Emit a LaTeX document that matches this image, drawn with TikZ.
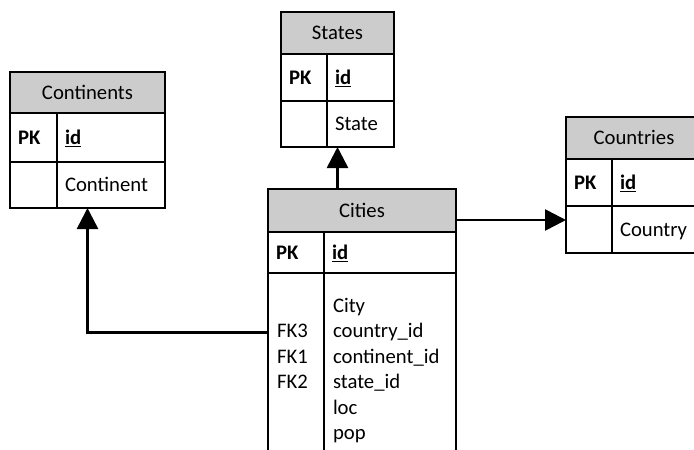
\documentclass[tikz,border=0pt]{standalone}
\usepackage{fontspec}
\setmainfont{Carlito}
\usetikzlibrary{arrows.meta,positioning}

\newcommand{\tabfont}{\fontsize{20.7}{25.5}\selectfont}

\begin{document}
\begin{tikzpicture}[
  x=1pt, y=-1pt,
  font=\tabfont,
  cell/.style={rectangle, draw, line width=1.5pt, inner xsep=8pt, inner ysep=0pt, outer sep=0pt,
               align=left, text height=13.5pt, text depth=0pt},
  hdr/.style={cell, fill=black!20, align=center},
  fld/.style={inner sep=0pt, outer sep=0pt, text height=18pt, text depth=7.5pt},
  link/.style={-{Triangle[length=21pt, width=21pt]}, line width=2.6pt}
]
\useasboundingbox (0,0) rectangle (694,450);
\clip (0,0) rectangle (694,450);

% Continents
\node[hdr, text width=139pt, minimum height=41pt, anchor=north west] (conthdr) at (10,72) {Continents};
\node[cell, text width=31pt, minimum height=49pt, below=0pt of conthdr.south west, anchor=north west] (contpk) {\textbf{PK}};
\node[cell, text width=92pt, minimum height=49pt, right=0pt of contpk.north east, anchor=north west] (contid) {\textbf{\underline{id}}};
\node[cell, text width=31pt, minimum height=46pt, below=0pt of contpk.south west, anchor=north west] (contkey) {};
\node[cell, text width=92pt, minimum height=46pt, below=0pt of contid.south west, anchor=north west] (contfld) {Continent};

% States
\node[hdr, text width=97pt, minimum height=42pt, anchor=north west] (sthdr) at (281,12) {States};
\node[cell, text width=30pt, minimum height=47pt, below=0pt of sthdr.south west, anchor=north west] (stpk) {\textbf{PK}};
\node[cell, text width=51pt, minimum height=47pt, right=0pt of stpk.north east, anchor=north west] (stid) {\textbf{\underline{id}}};
\node[cell, text width=30pt, minimum height=46pt, below=0pt of stpk.south west, anchor=north west] (stkey) {};
\node[cell, text width=51pt, minimum height=46pt, below=0pt of stid.south west, anchor=north west] (stfld) {State};

% Countries
\node[hdr, text width=120pt, minimum height=42pt, anchor=north west] (ctrhdr) at (566,117) {Countries};
\node[cell, text width=30pt, minimum height=47pt, below=0pt of ctrhdr.south west, anchor=north west] (ctrpk) {\textbf{PK}};
\node[cell, text width=74pt, minimum height=47pt, right=0pt of ctrpk.north east, anchor=north west] (ctrid) {\textbf{\underline{id}}};
\node[cell, text width=30pt, minimum height=47pt, below=0pt of ctrpk.south west, anchor=north west] (ctrkey) {};
\node[cell, text width=74pt, minimum height=47pt, below=0pt of ctrid.south west, anchor=north west] (ctrfld) {Country};

% Cities
\node[hdr, text width=172pt, minimum height=43pt, anchor=north west] (cithdr) at (268,189) {Cities};
\node[cell, text width=40pt, minimum height=41pt, below=0pt of cithdr.south west, anchor=north west] (citpk) {\textbf{PK}};
\node[cell, text width=116pt, minimum height=41pt, right=0pt of citpk.north east, anchor=north west] (citid) {\textbf{\underline{id}}};
\node[cell, text width=40pt, minimum height=200pt, below=0pt of citpk.south west, anchor=north west] (citkey) {};
\node[cell, text width=116pt, minimum height=200pt, below=0pt of citid.south west, anchor=north west] (citfld) {};

\node[fld, anchor=north west] (fcity) at ([xshift=9pt, yshift=-21pt]citfld.north west) {City};
\node[fld, below=0pt of fcity.south west, anchor=north west] (fcountry) {country\_id};
\node[fld, below=0pt of fcountry.south west, anchor=north west] (fcontinent) {continent\_id};
\node[fld, below=0pt of fcontinent.south west, anchor=north west] (fstate) {state\_id};
\node[fld, below=0pt of fstate.south west, anchor=north west] (floc) {loc};
\node[fld, below=0pt of floc.south west, anchor=north west] (fpop) {pop};

\node[fld, anchor=west] (fkthree) at ([xshift=9pt]citkey.west |- fcountry.west) {FK3};
\node[fld, below=0pt of fkthree.south west, anchor=north west] (fkone) {FK1};
\node[fld, below=0pt of fkone.south west, anchor=north west] (fktwo) {FK2};

% links
\draw[link] (sthdr |- cithdr.north) -- (sthdr |- stfld.south);
\draw[link] ([yshift=-9.5pt]cithdr.east) -- ([yshift=-9.5pt]cithdr.east -| ctrkey.west);
\draw[link] (citkey.west |- fkthree) -| (conthdr |- contfld.south);
\end{tikzpicture}
\end{document}
